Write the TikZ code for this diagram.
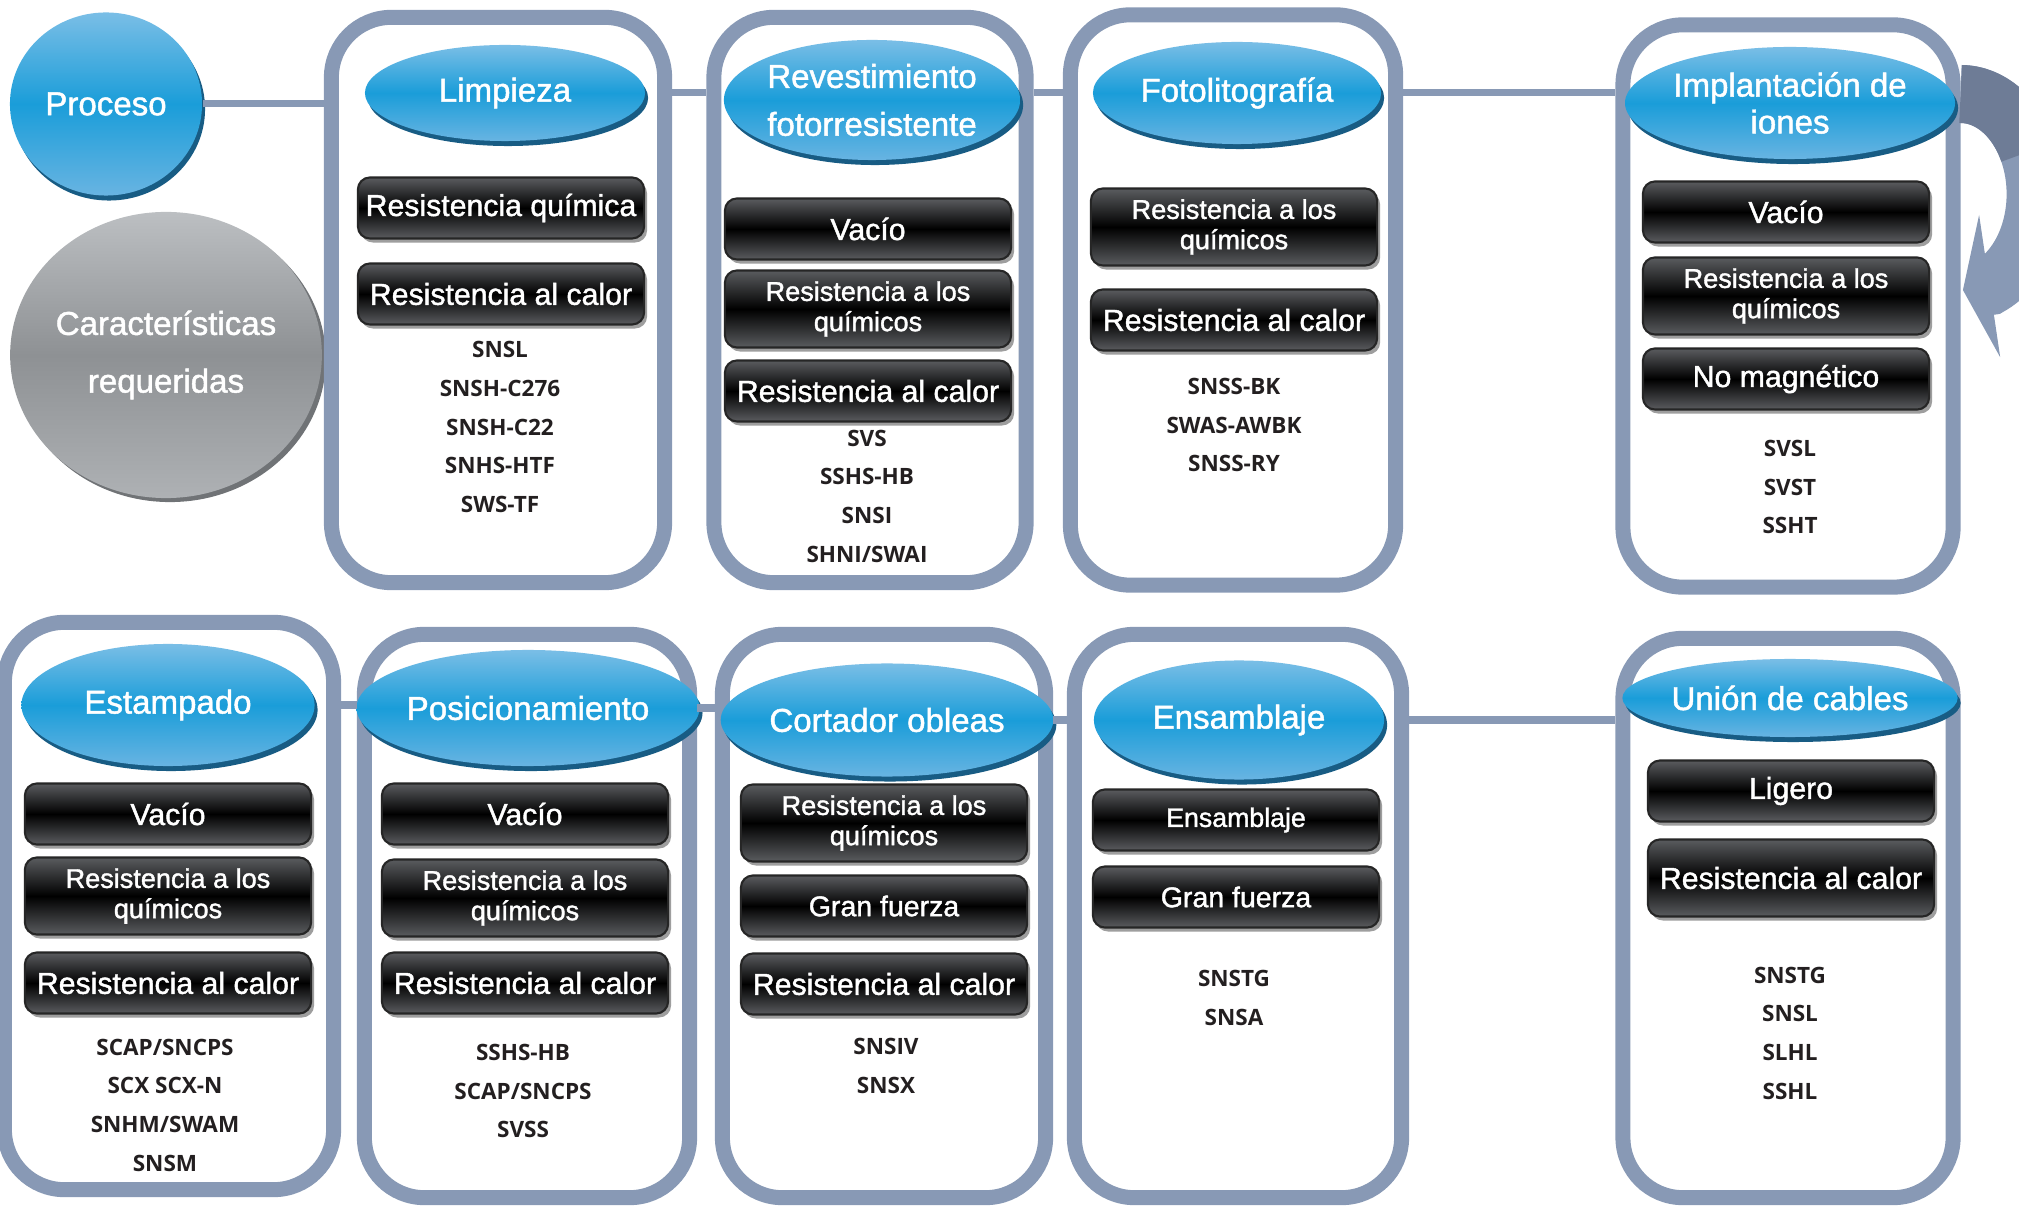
\documentclass[tikz,border=0pt]{standalone}
\usepackage{fontspec}
\setmainfont{Liberation Sans}
\newfontfamily\labelfont{Liberation Sans}[FakeBold=1.4]
\newfontfamily\codefont{Open Sans}
\usetikzlibrary{arrows.meta,positioning,shapes.geometric,shadows}

\definecolor{frame}{RGB}{136,153,181}
\definecolor{framedark}{RGB}{110,124,150}
\definecolor{bluetop}{RGB}{122,190,230}
\definecolor{bluemid}{RGB}{26,157,217}
\definecolor{bluebot}{RGB}{104,180,226}
\definecolor{blueshadow}{RGB}{24,92,132}
\definecolor{boxgray}{RGB}{90,92,95}
\definecolor{greytop}{RGB}{188,191,194}
\definecolor{greymid}{RGB}{142,145,148}
\definecolor{greybot}{RGB}{174,177,180}
\definecolor{greyshadow}{RGB}{112,115,118}
\definecolor{codeink}{RGB}{35,31,32}

\tikzset{
  stage/.style={draw=frame,line width=0.15cm,rounded corners=0.6cm,fill=white,minimum height=5.65cm},
  stagetitle/.style={ellipse,inner sep=0pt,text=white,align=center,font=\labelfont\fontsize{9.4}{10.5}\selectfont,
    top color=bluetop,bottom color=bluebot,middle color=bluemid,
    drop shadow={shadow xshift=0.03cm,shadow yshift=-0.05cm,fill=blueshadow,opacity=1}},
  need/.style={rectangle,rounded corners=0.12cm,draw=black!85,line width=0.6pt,minimum width=2.86cm,minimum height=0.61cm,
    inner sep=1pt,text=white,align=center,font=\labelfont\fontsize{8.6}{8.6}\selectfont,
    top color=boxgray,bottom color=boxgray,middle color=black,
    drop shadow={shadow xshift=0.03cm,shadow yshift=-0.04cm,fill=black!38,opacity=1}},
  needtwo/.style={need,font=\labelfont\fontsize{7.7}{8.6}\selectfont,minimum height=0.77cm},
  codes/.style={align=center,text=codeink,font=\codefont\bfseries\fontsize{6.4}{11}\selectfont},
  link/.style={draw=frame,line width=0.07cm}
}

\begin{document}
\begin{tikzpicture}[x=0.01cm,y=-0.01cm]
\useasboundingbox (0,0) rectangle (2019,1207);

\node[stagetitle,minimum width=1.92cm,minimum height=1.83cm] (proc) at (106,104) {Proceso};
\node[ellipse,inner sep=0pt,minimum width=2.96cm,minimum height=2.86cm,text=white,align=center,
  font=\labelfont\fontsize{9.4}{16.4}\selectfont,top color=greytop,bottom color=greybot,middle color=greymid,
  drop shadow={shadow xshift=0.04cm,shadow yshift=-0.04cm,fill=greyshadow,opacity=1}] (carac) at (166,355) {Características\\requeridas};

% fila superior
\node[stage,minimum width=3.33cm] (plimp) at (498,300) {};
\node[stage,minimum width=3.12cm] (prev) at (870,300) {};
\node[stage,minimum width=3.25cm,minimum height=5.70cm] (pfoto) at (1233,300) {};
\node[stage,minimum width=3.30cm,minimum height=5.62cm] (pimpl) at (1788,306) {};

\draw[frame,line width=0.58cm,-{Triangle[width=1.43cm,length=0.27cm]}] (pimpl.east |- 0,94)
  arc[start angle=-90,end angle=67,x radius=75,y radius=100] -- ++(-27,4);
\draw[framedark,line width=0.58cm] (pimpl.east |- 0,94) arc[start angle=-90,end angle=-25,x radius=75,y radius=100];

\node[stagetitle,minimum width=2.80cm,minimum height=0.96cm] (tlimp) at (505,93) {Limpieza};
\node[need] (limp1) at (501,208) {Resistencia química};
\node[need] (limp2) at (501,294) {Resistencia al calor};
\node[codes] (climp) at (500,427) {SNSL\\SNSH-C276\\SNSH-C22\\SNHS-HTF\\SWS-TF};

\node[stagetitle,font=\labelfont\fontsize{9.4}{13.6}\selectfont,minimum width=2.88cm,minimum height=1.20cm] (trev) at (872,100) {Revestimiento\\fotorresistente};
\node[need] (rev1) at (868,229) {Vacío};
\node[needtwo] (rev2) at (868,309) {Resistencia a los\\químicos};
\node[need] (rev3) at (868,391) {Resistencia al calor};
\node[codes] (crev) at (867,496) {SVS\\SSHS-HB\\SNSI\\SHNI/SWAI};

\node[stagetitle,minimum width=2.88cm,minimum height=1.02cm] (tfoto) at (1237,93) {Fotolitografía};
\node[needtwo] (foto1) at (1234,227) {Resistencia a los\\químicos};
\node[need] (foto2) at (1234,320) {Resistencia al calor};
\node[codes] (cfoto) at (1234,425) {SNSS-BK\\SWAS-AWBK\\SNSS-RY};

\node[stagetitle,minimum width=3.17cm,minimum height=1.12cm] (timpl) at (1790,103) {Implantación de\\iones};
\node[need] (impl1) at (1786,212) {Vacío};
\node[needtwo] (impl2) at (1786,296) {Resistencia a los\\químicos};
\node[need] (impl3) at (1786,379) {No magnético};
\node[codes] (cimpl) at (1790,487) {SVSL\\SVST\\SSHT};

% fila inferior
\node[stage,minimum width=3.29cm,minimum height=5.67cm] (pest) at (169,906) {};
\node[stage,minimum width=3.25cm,minimum height=5.63cm] (ppos) at (527,916) {};
\node[stage,minimum width=3.23cm,minimum height=5.63cm] (pcort) at (884,916) {};
\node[stage,minimum width=3.27cm,minimum height=5.63cm] (pens) at (1238,916) {};
\node[stage,minimum width=3.30cm,minimum height=5.59cm] (puni) at (1788,918) {};

\node[stagetitle,minimum width=2.93cm,minimum height=1.22cm] (test) at (168,705) {Estampado};
\node[need] (est1) at (168,814) {Vacío};
\node[needtwo] (est2) at (168,896) {Resistencia a los\\químicos};
\node[need] (est3) at (168,983) {Resistencia al calor};
\node[codes] (cest) at (165,1105) {SCAP/SNCPS\\SCX SCX-N\\SNHM/SWAM\\SNSM};

\node[stagetitle,minimum width=2.91cm,minimum height=1.16cm] (tpos) at (528,708) {Posicionamiento};
\node[need] (pos1) at (525,814) {Vacío};
\node[needtwo] (pos2) at (525,898) {Resistencia a los\\químicos};
\node[need] (pos3) at (525,983) {Resistencia al calor};
\node[codes] (cpos) at (523,1091) {SSHS-HB\\SCAP/SNCPS\\SVSS};

\node[stagetitle,minimum width=2.88cm,minimum height=1.13cm] (tcort) at (887,720) {Cortador obleas};
\node[needtwo] (cort1) at (884,823) {Resistencia a los\\químicos};
\node[need,font=\labelfont\fontsize{8.1}{8.6}\selectfont] (cort2) at (884,906) {Gran fuerza};
\node[need] (cort3) at (884,984) {Resistencia al calor};
\node[codes] (ccort) at (886,1066) {SNSIV\\SNSX};

\node[stagetitle,minimum width=2.90cm,minimum height=1.19cm] (tens) at (1239,720) {Ensamblaje};
\node[need,font=\labelfont\fontsize{7.6}{8.6}\selectfont] (ens1) at (1236,820) {Ensamblaje};
\node[need,font=\labelfont\fontsize{8.1}{8.6}\selectfont] (ens2) at (1236,897) {Gran fuerza};
\node[codes] (cens) at (1234,998) {SNSTG\\SNSA};

\node[stagetitle,minimum width=2.83cm,minimum height=0.78cm] (tuni) at (1790,698) {Unión de cables};
\node[need] (uni1) at (1791,791) {Ligero};
\node[need,minimum height=0.77cm] (uni2) at (1791,878) {Resistencia al calor};
\node[codes] (cuni) at (1790,1033) {SNSTG\\SNSL\\SLHL\\SSHL};

\draw[link] (proc.east) -- (plimp.west |- proc.east);
\draw[link] (plimp.east |- tlimp) -- (prev.west |- tlimp);
\draw[link] (prev.east |- tfoto) -- (pfoto.west |- tfoto);
\draw[link] (pfoto.east |- tfoto) -- (pimpl.west |- tfoto);
\draw[link] (pest.east |- test) -- (ppos.west |- test);
\draw[link] (ppos.east |- tpos) -- (pcort.west |- tpos);
\draw[link] (pcort.east |- tcort) -- (pens.west |- tcort);
\draw[link] (pens.east |- tens) -- (puni.west |- tens);
\end{tikzpicture}
\end{document}
